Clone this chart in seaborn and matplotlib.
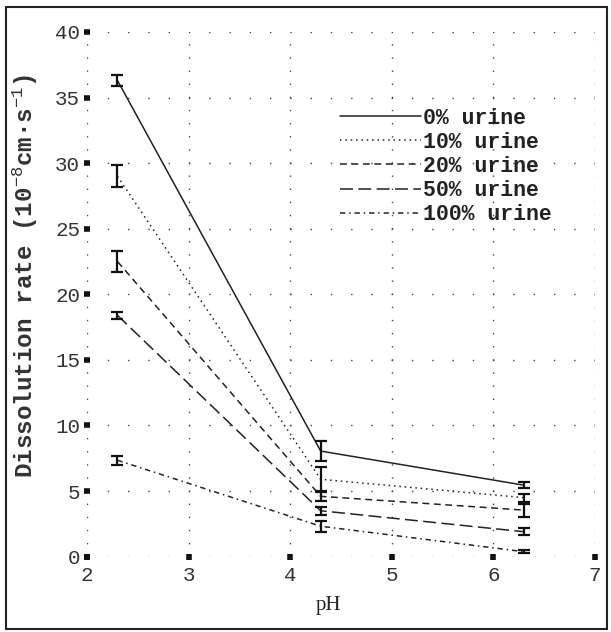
import pandas as pd
import matplotlib
matplotlib.use("Agg")
import matplotlib.pyplot as plt
from matplotlib.patches import Rectangle
import seaborn as sns

ph = [2.3, 4.3, 6.3]
series = ["0% urine", "10% urine", "20% urine", "50% urine", "100% urine"]
rate_0 = [36.3, 8.05, 5.45]
rate_10 = [29.0, 5.9, 4.5]
rate_20 = [22.5, 4.6, 3.55]
rate_50 = [18.4, 3.5, 1.9]
rate_100 = [7.35, 2.32, 0.38]
err_0 = [0.4, 0.73, 0.22]
err_10 = [0.85, 0.9, 0.3]
err_20 = [0.8, 0.35, 0.5]
err_50 = [0.25, 0.32, 0.25]
err_100 = [0.35, 0.42, 0.12]
x_ticks = [2, 3, 4, 5, 6, 7]
y_ticks = [0, 5, 10, 15, 20, 25, 30, 35, 40]

rates = [rate_0, rate_10, rate_20, rate_50, rate_100]
errs = [err_0, err_10, err_20, err_50, err_100]

rows = []
for name, r, e in zip(series, rates, errs):
    for p, v, s in zip(ph, r, e):
        rows.append({"pH": p, "rate": v, "err": s, "series": name})
df = pd.DataFrame(rows)

sns.set_style("white")
plt.rcParams["font.family"] = ["Liberation Mono", "DejaVu Sans"]
plt.rcParams["mathtext.fontset"] = "custom"
plt.rcParams["mathtext.rm"] = "Liberation Mono"
plt.rcParams["mathtext.it"] = "Liberation Mono"
plt.rcParams["mathtext.bf"] = "Liberation Mono:bold"

fig = plt.figure(figsize=(6.11, 6.32), dpi=100)
ax = fig.add_axes([0.1424, 0.1192, 0.8314, 0.8302])

dashes = {
    "0% urine": "",
    "10% urine": (1, 2.5),
    "20% urine": (4.5, 3),
    "50% urine": (8.5, 3.5),
    "100% urine": (3.5, 2.5, 1, 2.5),
}
sns.lineplot(data=df, x="pH", y="rate", style="series", dashes=dashes,
             color="#222222", linewidth=1.1, ax=ax, legend=True)

for name, r, e in zip(series, rates, errs):
    ax.errorbar(ph, r, yerr=e, fmt="none", ecolor="#111111",
                elinewidth=1.6, capsize=4.3, capthick=1.6, zorder=3)

ax.set_xlim(2, 7)
ax.set_ylim(0, 40)
ax.set_xticks(x_ticks)
ax.set_yticks(y_ticks)
ax.set_xticklabels([str(t) for t in x_ticks])
ax.set_yticklabels([str(t) for t in y_ticks])
for s in ax.spines.values():
    s.set_visible(False)

ax.xaxis.grid(True, color="#444444", linewidth=1.0, linestyle=(0, (1, 8.45)))
ax.yaxis.grid(True, color="#444444", linewidth=1.0, linestyle=(0, (1, 13.6)))
ax.set_axisbelow(True)

ax.tick_params(axis="both", bottom=True, left=True, direction="inout",
               length=4.0, width=4.0, color="#111111", labelsize=15,
               labelcolor="#333333")
ax.tick_params(axis="x", pad=5)
ax.tick_params(axis="y", pad=3)

ax.set_xlabel("pH", family="Liberation Serif", fontsize=15, color="#222222")
ax.xaxis.set_label_coords(0.476, -0.075)
ax.set_ylabel("Dissolution rate (10$^{-8}$cm·s$^{-1}$)", fontsize=17.5,
              fontweight="bold", color="#333333")
ax.yaxis.set_label_coords(-0.093, 0.535)

handles, labels = ax.get_legend_handles_labels()
leg = ax.legend(handles, labels, loc="upper left", bbox_to_anchor=(0.498, 0.856),
                frameon=False, borderpad=0, borderaxespad=0, handlelength=3.75,
                handletextpad=0.1, labelspacing=0.15,
                prop={"family": "Liberation Mono", "size": 15.5, "weight": "bold"})
for t in leg.get_texts():
    t.set_color("#222222")

fig.patches.append(Rectangle((0.0098, 0.0047), 0.9836, 0.984, transform=fig.transFigure,
                             fill=False, edgecolor="#222222", linewidth=1.5))

plt.savefig("out.png", dpi=100)
